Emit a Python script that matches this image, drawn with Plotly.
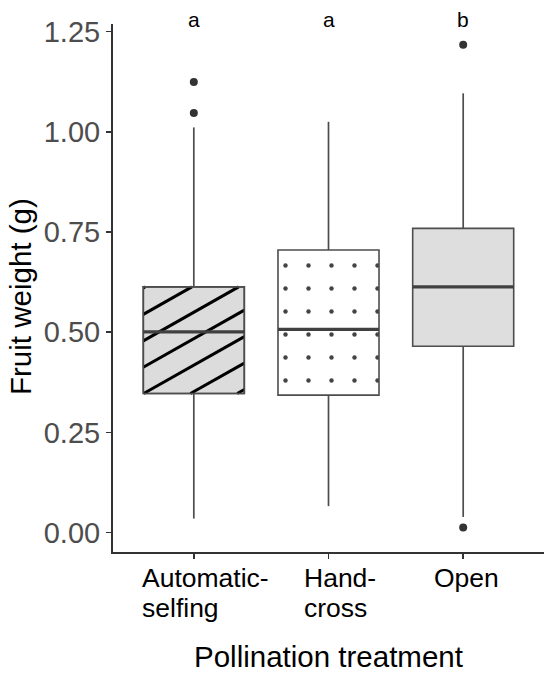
import plotly.graph_objects as go

# ---- data ----
categories = ["Automatic-selfing", "Hand-cross", "Open"]
tick_labels = ["Automatic-\nselfing", "Hand-\ncross", "Open"]
q1 = [0.347, 0.343, 0.465]
median = [0.501, 0.507, 0.613]
q3 = [0.613, 0.705, 0.759]
lower_whisker = [0.035, 0.066, 0.039]
upper_whisker = [1.011, 1.025, 1.096]
outlier_values = [[1.047, 1.124], [], [1.217, 0.0125]]
letters = ["a", "a", "b"]

# ---- styles ----
fills = ["#dcdcdc", "#ffffff", "#dedede"]
patterns = ["", ".", ""]
hatched = [True, False, False]
hatch_slope = 0.19       # rise in y-units per x-unit
hatch_step = 0.066       # vertical gap between stripes (y-units)
label_shift = [-54, -27, -31]
box_width = 0.75
FONT = "Arial, Liberation Sans, sans-serif"
LINE = "#4d4d4d"

xpos = [i + 1 for i in range(len(categories))]

fig = go.Figure()

# boxes (IQR) as bars
fig.add_trace(go.Bar(
    x=xpos, base=q1, y=[b - a for a, b in zip(q1, q3)], width=box_width,
    marker=dict(color=fills, line=dict(color=LINE, width=1.6),
                pattern=dict(shape=patterns, fgcolor="black", fgopacity=1,
                             size=23, solidity=0.03, fillmode="overlay")),
    hoverinfo="skip", showlegend=False))

# diagonal hatching clipped to the hatched boxes
hx, hy = [], []
for x, a, b, h in zip(xpos, q1, q3, hatched):
    if not h:
        continue
    x0, x1 = x - box_width / 2, x + box_width / 2
    height = b - a
    c = -hatch_slope * box_width + 0.01
    while c < height:
        lo = max(x0, x0 + (0 - c) / hatch_slope)
        hi = min(x1, x0 + (height - c) / hatch_slope)
        if hi > lo:
            hx += [lo, hi, None]
            hy += [a + c + hatch_slope * (lo - x0),
                   a + c + hatch_slope * (hi - x0), None]
        c += hatch_step
fig.add_trace(go.Scatter(x=hx, y=hy, mode="lines",
                         line=dict(color="black", width=3),
                         hoverinfo="skip", showlegend=False))

# whiskers
wx, wy = [], []
for x, lo, a, b, hi in zip(xpos, lower_whisker, q1, q3, upper_whisker):
    wx += [x, x, None, x, x, None]
    wy += [lo, a, None, b, hi, None]
fig.add_trace(go.Scatter(x=wx, y=wy, mode="lines",
                         line=dict(color=LINE, width=1.7),
                         hoverinfo="skip", showlegend=False))

# box outlines redrawn on top of hatching
bx, by = [], []
for x, a, b, h in zip(xpos, q1, q3, hatched):
    if not h:
        continue
    x0, x1 = x - box_width / 2, x + box_width / 2
    bx += [x0, x1, x1, x0, x0, None]
    by += [a, a, b, b, a, None]
fig.add_trace(go.Scatter(x=bx, y=by, mode="lines",
                         line=dict(color=LINE, width=1.6),
                         hoverinfo="skip", showlegend=False))

# medians
mx, my = [], []
for x, m in zip(xpos, median):
    mx += [x - box_width / 2, x + box_width / 2, None]
    my += [m, m, None]
fig.add_trace(go.Scatter(x=mx, y=my, mode="lines",
                         line=dict(color="#404040", width=3.2),
                         hoverinfo="skip", showlegend=False))

# outliers
ox, oy = [], []
for x, vals in zip(xpos, outlier_values):
    for v in vals:
        ox.append(x)
        oy.append(v)
fig.add_trace(go.Scatter(x=ox, y=oy, mode="markers",
                         marker=dict(color="#333333", size=8),
                         hoverinfo="skip", showlegend=False))

annotations = []
# significance letters
for x, t in zip(xpos, letters):
    annotations.append(dict(x=x, y=1.0, xref="x", yref="paper", text=t,
                            showarrow=False, yanchor="bottom", yshift=-9,
                            font=dict(family=FONT, size=21, color="black")))
# category labels (left-aligned lines)
for x, t, s in zip(xpos, tick_labels, label_shift):
    for k, line in enumerate(t.split("\n")):
        annotations.append(dict(x=x, y=0, xref="x", yref="paper", text=line,
                                showarrow=False, xanchor="left", align="left",
                                yanchor="top", xshift=s, yshift=-9 - 30 * k,
                                font=dict(family=FONT, size=26.5,
                                          color="black")))
# axis titles
annotations.append(dict(x=0.5, y=0, xref="paper", yref="paper",
                        text="Pollination treatment", showarrow=False,
                        yanchor="top", yshift=-86,
                        font=dict(family=FONT, size=29.5, color="black")))
annotations.append(dict(x=0, y=0.483, xref="paper", yref="paper",
                        text="Fruit weight (g)", showarrow=False,
                        textangle=-90, xanchor="center", xshift=-92,
                        font=dict(family=FONT, size=29.5, color="black")))

fig.update_layout(
    width=544, height=677,
    margin=dict(l=113, r=0, t=24, b=125),
    plot_bgcolor="white", paper_bgcolor="white",
    bargap=0, showlegend=False,
    annotations=annotations,
    xaxis=dict(range=[0.4, 3.6], tickvals=xpos, ticktext=["", "", ""],
               showgrid=False, zeroline=False, showline=True,
               linecolor="#333333", linewidth=2, ticks="outside",
               ticklen=5, tickwidth=1.5, tickcolor="#333333"),
    yaxis=dict(range=[-0.0484, 1.269],
               tickvals=[0, 0.25, 0.5, 0.75, 1.0, 1.25],
               tickformat=".2f", showgrid=False, zeroline=False,
               showline=True, linecolor="#333333", linewidth=2,
               ticks="outside", ticklen=5, tickwidth=1.5,
               tickcolor="#333333",
               tickfont=dict(family=FONT, size=29, color="#4d4d4d")),
)

fig.write_html("out.html",
               config={"displayModeBar": False, "staticPlot": True},
               post_script="document.body.style.margin='0px';")
